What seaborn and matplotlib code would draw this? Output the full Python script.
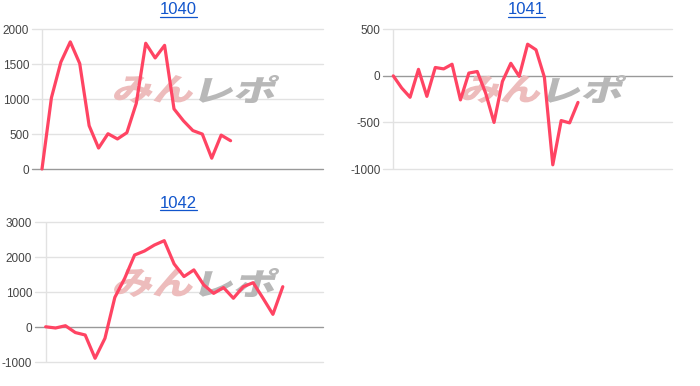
import matplotlib
matplotlib.use("Agg")
import matplotlib.pyplot as plt
import seaborn as sns
import pandas as pd
from matplotlib.textpath import TextPath
from matplotlib.font_manager import FontProperties
from matplotlib.patches import PathPatch
from matplotlib.transforms import Affine2D

titles = ["1040", "1041", "1042"]
values_1040 = [0, 1020, 1530, 1820, 1510, 620, 300, 505, 430, 520, 940, 1800, 1590, 1770,
               860, 690, 550, 500, 155, 485, 405]
values_1041 = [0, -130, -230, 70, -220, 90, 75, 125, -258, 30, 47, -185, -500, -60, 135,
               -5, 340, 280, -15, -955, -480, -505, -285]
values_1042 = [15, -20, 45, -150, -220, -885, -315, 855, 1400, 2065, 2180, 2350, 2475, 1810,
               1450, 1640, 1210, 970, 1135, 830, 1160, 1275, 830, 370, 1160]
yticks_1040 = [0, 500, 1000, 1500, 2000]
yticks_1041 = [-1000, -500, 0, 500]
yticks_1042 = [-1000, 0, 1000, 2000, 3000]

series = [values_1040, values_1041, values_1042]
yticks = [yticks_1040, yticks_1041, yticks_1042]

sns.set_style("white")
plt.rcParams['font.family'] = ['Liberation Sans', 'DejaVu Sans']

fig = plt.figure(figsize=(7.0, 3.86), dpi=100)
W, H = 700, 386

# axes boxes in pixels: left, top, right, bottom
boxes = [(32, 29.3, 323, 169), (383.3, 29.3, 672, 169), (35, 222.3, 323.3, 362.3)]
xlims = [(-1.06, 29.8), (-1.19, 33.2), (-1.08, 28.1)]
title_pos = [(178, 10), (526, 10), (178, 203)]
# watermark boxes (left, top, right, bottom) in pixels
wm_boxes = [(112, 75, 280, 103), (460, 75, 627, 103), (112, 268, 280, 297)]

line_color = "#FF4463"
wm_font = FontProperties(family="Noto Sans CJK JP", weight="heavy")


def add_logo(ax, text, color, x0, y0, x1, y1):
    tp = TextPath((0, 0), text, size=1, prop=wm_font)
    ext = tp.get_extents()
    h = y1 - y0
    shear = 0.268 * h
    sx = (x1 - x0 - shear) / ext.width
    sy = h / ext.height
    tr = (Affine2D().translate(-ext.x0, -ext.y0).scale(sx, sy)
          .skew_deg(15, 0).translate(x0, H - y1))
    patch = PathPatch(tp, transform=tr, facecolor=color, edgecolor="none",
                      zorder=2, clip_on=False)
    ax.add_artist(patch)


for i in range(3):
    l, t, r, b = boxes[i]
    ax = fig.add_axes([l / W, 1 - b / H, (r - l) / W, (b - t) / H])
    df = pd.DataFrame({"x": list(range(len(series[i]))), "y": series[i]})
    ax.set_xlim(*xlims[i])
    ax.set_ylim(yticks[i][0], yticks[i][-1])
    for yv in yticks[i]:
        ax.axhline(yv, color="#999999" if yv == 0 else "#e2e2e2", lw=1.0, zorder=1, clip_on=False)
    ax.axvline(0, color="#e2e2e2", lw=1.0, zorder=1)
    sns.lineplot(data=df, x="x", y="y", ax=ax, color=line_color, lw=2.3, zorder=3,
                 clip_on=False)
    for sp in ax.spines.values():
        sp.set_visible(False)
    ax.set_yticks(yticks[i])
    ax.set_yticklabels([str(v) for v in yticks[i]])
    ax.tick_params(axis="y", length=0, pad=2, labelsize=8.5, labelcolor="#444444")
    ax.set_xticks([])
    ax.set_xlabel("")
    ax.set_ylabel("")
    # title
    tx, ty = title_pos[i]
    fig.text(tx / W, 1 - ty / H, titles[i], ha="center", va="center", fontsize=12,
             color="#1155CC")
    fig.add_artist(plt.Line2D([(tx - 18.5) / W, (tx + 18.5) / W], [1 - (ty + 7) / H] * 2,
                              color="#1155CC", lw=0.9))
    # watermark
    x0, y0, x1, y1 = wm_boxes[i]
    mid = x0 + (x1 - x0) * 0.5
    add_logo(ax, "みん", "#EDBCBC", x0, y0, mid + 2, y1)
    add_logo(ax, "レポ", "#B8B8B8", mid + 2, y0, x1, y1)

fig.savefig("out.png", dpi=100)
